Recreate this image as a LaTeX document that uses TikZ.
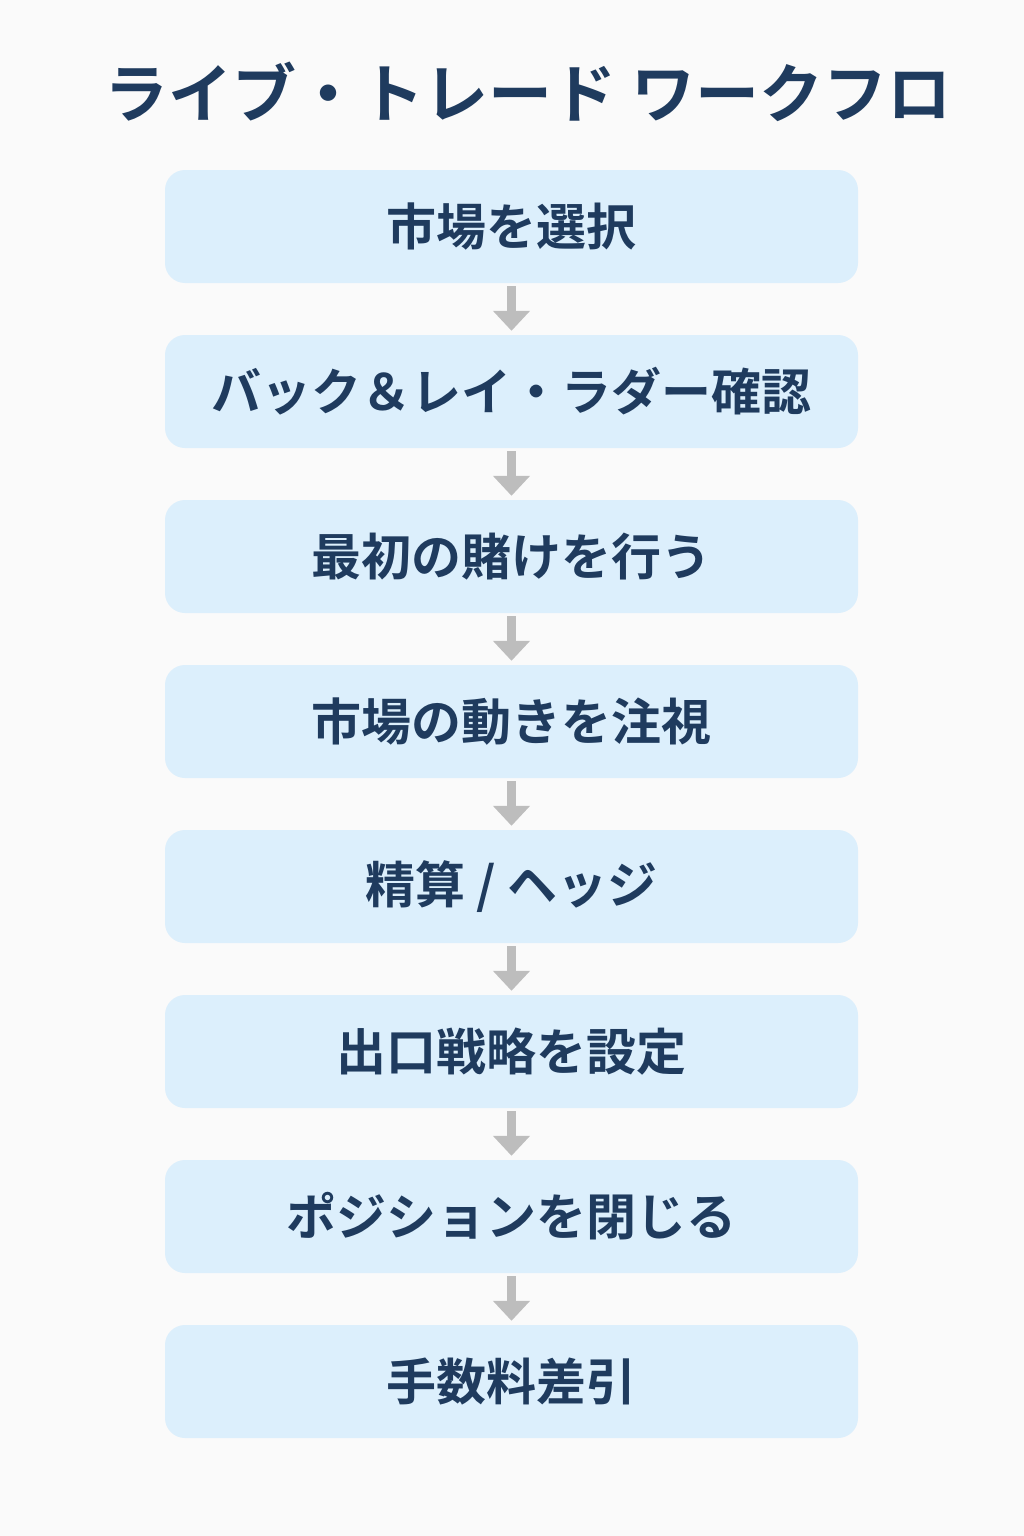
\documentclass[tikz,border=0pt]{standalone}
\usepackage{fontspec}
\usetikzlibrary{arrows.meta}
\newfontfamily\cjk{Noto Sans CJK JP Bold}
\definecolor{navy}{HTML}{1F3B5E}
\definecolor{boxfill}{HTML}{DCEFFC}
\definecolor{arrowgray}{HTML}{BDBDBD}
\begin{document}
\begin{tikzpicture}[x=1pt,y=-1pt,
  stepbox/.style={fill=boxfill,rounded corners=20pt,minimum width=693pt,minimum height=113pt,inner sep=0pt,text=navy,font=\cjk\fontsize{50}{54}\selectfont},
  flowarrow/.style={draw=arrowgray,line width=9pt,-{Triangle[width=36pt,length=20pt]},shorten <=3pt,shorten >=4pt}]
\fill[white!98!black] (0,0) rectangle (1024,1536);
\useasboundingbox (0,0) rectangle (1024,1536);
\node[text=navy,font=\cjk\fontsize{64}{70}\selectfont] (title) at (528,92) {ライブ・トレード ワークフロ};
\foreach \i/\t in {1/市場を選択,2/バック＆レイ・ラダー確認,3/最初の賭けを行う,4/市場の動きを注視,5/{精算 / ヘッジ},6/出口戦略を設定,7/ポジションを閉じる,8/手数料差引}{
  \node[stepbox] (b\i) at (511.5,{226.5+165*(\i-1)}) {\t};
}
\foreach \a/\b in {1/2,2/3,3/4,4/5,5/6,6/7,7/8}{
  \draw[flowarrow] (b\a.south) -- (b\b.north);
}
\end{tikzpicture}
\end{document}
